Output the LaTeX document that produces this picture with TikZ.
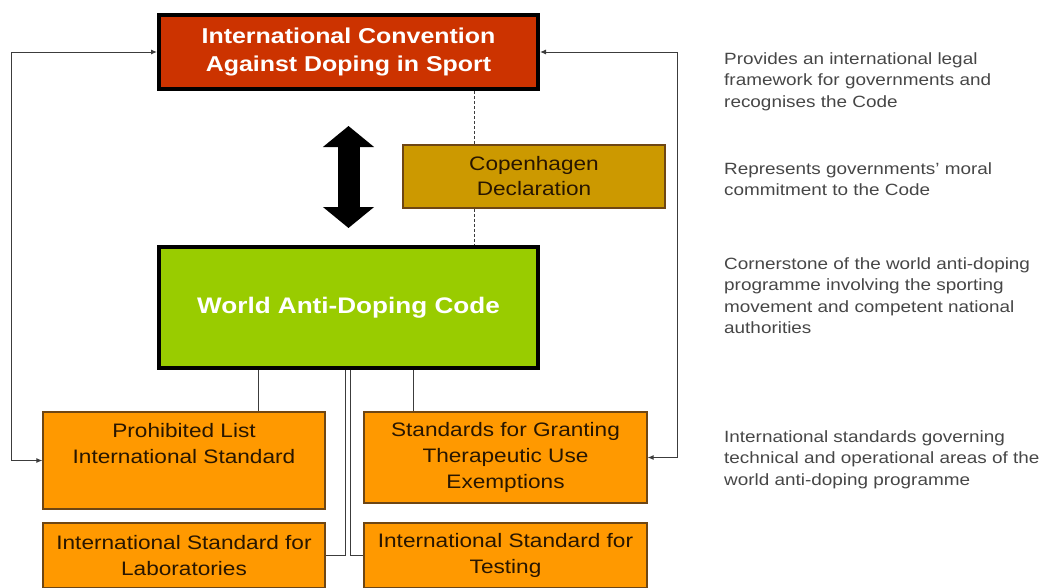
\documentclass[tikz,border=0pt]{standalone}
\usepackage{fontspec}
\setmainfont{Liberation Sans}[FakeStretch=1.16]
\usetikzlibrary{arrows.meta}

\definecolor{convred}{RGB}{204,51,0}
\definecolor{codegreen}{RGB}{153,204,0}
\definecolor{declgold}{RGB}{204,153,0}
\definecolor{stdorange}{RGB}{255,153,0}
\definecolor{boxline}{RGB}{110,70,20}
\definecolor{stdtext}{RGB}{40,22,0}
\definecolor{notegray}{RGB}{70,70,70}
\definecolor{linegray}{RGB}{60,60,60}

\begin{document}
\begin{tikzpicture}
  [x=1pt,y=-1pt,
   box/.style={draw=boxline,line width=1.2pt,align=center,inner sep=0pt},
   main/.style={box,draw=black,line width=4pt,text=white,
     font=\bfseries\fontsize{21.5}{28}\selectfont},
   std/.style={box,fill=stdorange,text=stdtext,font=\fontsize{19.5}{26}\selectfont},
   note/.style={anchor=north west,align=left,inner sep=0pt,text=notegray,
     font=\fontsize{16.3}{21.5}\selectfont},
   link/.style={draw=linegray,line width=1pt},
   feed/.style={link,{Latex[length=6pt,width=5pt]}-{Latex[length=6pt,width=5pt]}},
   bigarrow/.style={line width=22pt,
     {Triangle[length=21pt,width=50pt]}-{Triangle[length=21pt,width=50pt]}}]
  \useasboundingbox (0,0) rectangle (1046,587);

  % the boxes
  \node (convention) [main,fill=convred,minimum width=379,minimum height=74]
    at (348.5,52) {International Convention\\Against Doping in Sport};
  \node (copenhagen) [box,fill=declgold,text=stdtext,minimum width=262,minimum height=63,
    font=\fontsize{19.5}{25}\selectfont] at (534,176.5) {Copenhagen\\Declaration};
  \node (code) [main,fill=codegreen,minimum width=379,minimum height=121,
    font=\bfseries\fontsize{22.5}{28}\selectfont] at (348.5,307.5) {World Anti-Doping Code};
  \node (prohibited) [std,minimum width=282,minimum height=97] at (184,460.5)
    {Prohibited List\\International Standard\\\strut};
  \node (tue) [std,minimum width=283,minimum height=91] at (505.5,457.5)
    {Standards for Granting\\Therapeutic Use\\Exemptions};
  \node (labs) [std,minimum width=282,minimum height=65] at (184,555.5)
    {International Standard for\\Laboratories};
  \node (testing) [std,minimum width=283,minimum height=65] at (505.5,555.5)
    {International Standard for\\Testing};

  % notes on the right
  \node (note1) [note] at (724,52)
    {Provides an international legal\\framework for governments and\\recognises the Code};
  \node (note2) [note] at (724,162)
    {Represents governments' moral\\commitment to the Code};
  \node (note3) [note] at (724,257)
    {Cornerstone of the world anti-doping\\programme involving the sporting\\movement and competent national\\authorities};
  \node (note4) [note] at (724,430)
    {International standards governing\\technical and operational areas of the\\world anti-doping programme};

  % connectors
  \coordinate (dashx) at (474,0);
  \coordinate (leftx) at (258,0);
  \coordinate (rightx) at (413,0);
  \draw[bigarrow] ([yshift=-35pt]convention.south) -- ([yshift=17pt]code.north);
  \foreach \from/\to in {convention/copenhagen,copenhagen/code}
    \draw[linegray,line width=0.8pt,dash pattern=on 3pt off 2pt]
      (\from.south -| dashx) -- (\to.north -| dashx);
  \foreach \col/\to in {leftx/prohibited,rightx/tue}
    \draw[link] (code.south -| \col) -- (\to.north -| \col);
  \draw[link] ([xshift=-3.5pt]code.south) |- (labs.east);
  \draw[link] ([xshift=1.5pt]code.south) |- (testing.west);
  \draw[feed] (prohibited.west) -- ++(-31,0) |- (convention.west);
  \draw[feed] (tue.east) -- ++(30,0) |- (convention.east);
\end{tikzpicture}
\end{document}
